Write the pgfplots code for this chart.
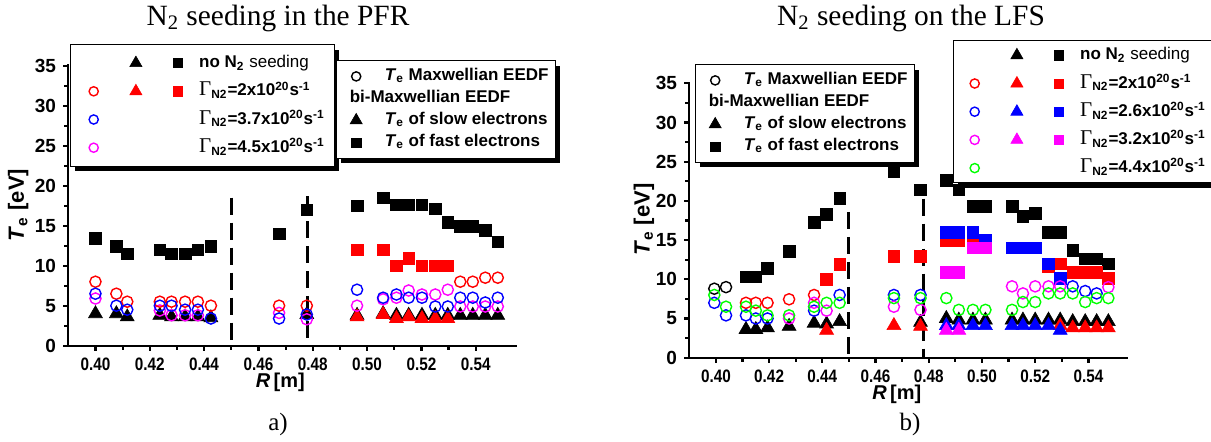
\documentclass[border=0pt]{standalone}
\usepackage{fontspec}
\setmainfont{Liberation Sans}
\newfontfamily\serif{Liberation Serif}
\newfontfamily\narrowfont[FakeStretch=0.85]{Liberation Sans}
\usepackage{pgfplots}
\pgfplotsset{compat=1.18}
\usetikzlibrary{shadows}
\definecolor{cred}{RGB}{255,0,0}
\definecolor{cblue}{RGB}{0,0,255}
\definecolor{cmag}{RGB}{255,0,255}
\definecolor{cgreen}{RGB}{0,255,0}
\pgfplotsset{
  sq/.style={only marks, mark=square*, mark size=2.9pt, color=#1, mark options={solid, draw=#1, fill=#1, line width=0.3pt}},
  tri/.style={only marks, mark=triangle*, mark size=4.0pt, color=#1, mark options={solid, draw=#1, fill=#1, line width=0.3pt}},
  circ/.style={only marks, mark=o, mark size=2.8pt, color=#1, mark options={solid, draw=#1, line width=0.7pt}},
  lsq/.style={only marks, mark=square*, mark size=2.3pt, color=#1, mark options={solid, draw=#1, fill=#1, line width=0.3pt}},
  ltri/.style={only marks, mark=triangle*, mark size=3.5pt, color=#1, mark options={solid, draw=#1, fill=#1, line width=0.3pt}},
  lcirc/.style={only marks, mark=o, mark size=2.3pt, color=#1, mark options={solid, draw=#1, line width=0.7pt}},
  limgA/.style={legend image code/.code={\path (0pt,0pt) (16.5pt,0pt); \draw[##1] plot coordinates {(8.25pt,0pt)};}},
  limgB/.style={legend image code/.code={\path (0pt,0pt) (20pt,0pt); \draw[##1] plot coordinates {(8pt,0pt)};}},
  dashln/.style={black, line width=1.5pt, dash pattern=on 8.5pt off 4pt, forget plot},
  myaxis/.style={
    scale only axis, anchor=south west,
    axis x line*=bottom, axis y line*=left,
    axis line style={-, line width=1.1pt},
    xmin=0.39, xmax=0.555, ymin=0, ymax=35.2,
    xtick={0.40,0.42,0.44,0.46,0.48,0.50,0.52,0.54},
    minor x tick num=1,
    ytick={0,5,10,15,20,25,30,35},
    minor y tick num=1,
    tick align=outside,
    major tick length=2.6pt, minor tick length=2pt,
    tick style={line width=1.1pt, black},
    /pgf/number format/assume math mode=true,
    xticklabel style={font=\narrowfont\bfseries\fontsize{9}{10}\selectfont, /pgf/number format/fixed, /pgf/number format/fixed zerofill, /pgf/number format/precision=2},
    yticklabel style={font=\bfseries\fontsize{9.5}{10}\selectfont},
    every axis x label/.style={at={(axis description cs:0.5,0)}, anchor=center, yshift=-18.5pt, xshift=-6pt, font=\bfseries\fontsize{10}{12}\selectfont},
    xlabel={\textit{R}\,[m]},
    ylabel={\textit{T}\textsubscript{e} [eV]},
    clip=false,
  },
  legbase/.style={
    scale only axis, width=5pt, height=5pt, hide axis,
    xmin=0, xmax=1, ymin=0, ymax=1, anchor=north west,
    legend cell align=left,
    legend style={at={(0,1)}, anchor=north west, draw=black, fill=white, line width=0.6pt,
      drop shadow={shadow xshift=2.2pt, shadow yshift=-2.6pt, opacity=1, fill=black},
      column sep=0pt, row sep=0pt,
      font=\fontsize{8.5}{10}\selectfont},
  },
  gamleg/.style={legbase, legend columns=3,
    legend style={inner xsep=3pt, inner ysep=2.2pt,
      nodes={inner xsep=2pt, inner ysep=1pt, text height=8.3pt, text depth=3.8pt}}},
  teleg/.style={legbase, legend columns=1,
    legend style={inner xsep=1.5pt, inner ysep=2.4pt,
      nodes={inner xsep=2pt, inner ysep=1pt, text height=6.5pt, text depth=2.5pt}}},
}
\newcommand{\Gam}[1]{\textbf{{\serif\mdseries\fontsize{10.5}{10}\selectfont Γ}\textsubscript{N2}=#1x10\textsuperscript{20}s\textsuperscript{-1}}}
\newcommand{\Te}{\textbf{\textit{T}\textsubscript{e}}}
\begin{document}
\begin{tikzpicture}
\path[use as bounding box] (0,0) rectangle (605.5pt,220.5pt);
\node[anchor=base, font=\serif\fontsize{14.7}{16}\selectfont] at (139pt,208pt) {N\textsubscript{2} seeding in the PFR};
\node[anchor=base, font=\serif\fontsize{14.7}{16}\selectfont] at (455.5pt,208pt) {N\textsubscript{2} seeding on the LFS};
\node[anchor=base, font=\serif\fontsize{12.5}{14}\selectfont] at (139pt,5.5pt) {a)};
\node[anchor=base, font=\serif\fontsize{12.5}{14}\selectfont] at (455pt,5.5pt) {b)};

% ---------------- left plot ----------------
\begin{axis}[myaxis, at={(34.15pt,47.65pt)}, width=224.1pt, height=140.8pt,
  every axis y label/.style={at={(axis description cs:-0.1116,0.5)}, anchor=center, rotate=90, font=\bfseries\fontsize{11}{13}\selectfont}]
\addplot[dashln] coordinates {(0.45,18.5) (0.45,0)};
\addplot[dashln] coordinates {(0.478,18.7) (0.478,0)};
% slow electrons, no N2
\addplot[tri=black] coordinates {(0.400,4.0) (0.4077,4.0) (0.4117,3.6) (0.4237,3.8) (0.428,3.6) (0.433,3.6) (0.4377,3.6) (0.4425,3.5) (0.4778,3.9) (0.4963,3.8) (0.5059,4.0) (0.5108,3.8) (0.5153,3.8) (0.5202,3.8) (0.5251,3.8) (0.5297,3.8) (0.5343,3.8) (0.5389,3.8) (0.5435,3.8) (0.5481,3.8)};
% slow electrons, 2e20
\addplot[tri=cred] coordinates {(0.4963,3.6) (0.5059,3.9) (0.5108,3.4) (0.5153,3.6) (0.5202,3.4) (0.5251,3.4) (0.5297,3.4)};
% fast electrons, no N2
\addplot[sq=black] coordinates {(0.400,13.4) (0.4077,12.4) (0.4117,11.5) (0.4237,12.0) (0.428,11.5) (0.433,11.5) (0.4377,12.0) (0.4425,12.4) (0.4676,14.0) (0.4778,17.0) (0.4963,17.5) (0.5059,18.5) (0.5108,17.6) (0.5153,17.6) (0.5202,17.6) (0.5251,17.1) (0.5297,15.4) (0.5343,14.9) (0.5389,14.9) (0.5435,14.4) (0.5481,13.0)};
% fast electrons, 2e20
\addplot[sq=cred] coordinates {(0.4963,12.0) (0.5059,12.0) (0.5108,10.0) (0.5153,10.9) (0.5202,10.0) (0.5251,10.0) (0.5297,10.0)};
% Maxwellian
\addplot[circ=cmag] coordinates {(0.400,5.9) (0.4237,4.4) (0.428,3.8) (0.433,3.8) (0.4377,3.8) (0.4676,4.1) (0.4778,3.3) (0.4963,5.0) (0.5059,5.8) (0.5108,6.0) (0.5153,6.9) (0.5202,6.4) (0.5251,6.4) (0.5297,7.0) (0.5343,4.9) (0.5389,4.9) (0.5435,4.9) (0.5481,4.9)};
\addplot[circ=cred] coordinates {(0.400,8.0) (0.4077,6.5) (0.4117,5.5) (0.4237,5.5) (0.428,5.5) (0.433,5.5) (0.4377,5.5) (0.4425,5.0) (0.4676,5.0) (0.4778,5.0) (0.5343,8.0) (0.5389,8.0) (0.5435,8.5) (0.5481,8.5)};
\addplot[circ=cblue] coordinates {(0.400,6.5) (0.4077,5.0) (0.4117,4.5) (0.4237,5.0) (0.428,5.0) (0.433,4.5) (0.4377,4.5) (0.4425,3.4) (0.4676,3.4) (0.4778,3.9) (0.4963,7.0) (0.5059,6.0) (0.5108,6.4) (0.5153,6.0) (0.5202,6.0) (0.5251,4.9) (0.5297,4.9) (0.5343,6.0) (0.5389,6.0) (0.5435,5.4) (0.5481,6.0)};
\end{axis}

% left legend 1
\begin{axis}[gamleg, at={(35pt,198.5pt)}]
\addlegendimage{empty legend}\addlegendentry{}
\addlegendimage{ltri=black, limgA}\addlegendentry{}
\addlegendimage{lsq=black, limgA}\addlegendentry{\textbf{no N\textsubscript{2}} seeding}
\addlegendimage{lcirc=cred, limgA}\addlegendentry{}
\addlegendimage{ltri=cred, limgA}\addlegendentry{}
\addlegendimage{lsq=cred, limgA}\addlegendentry{\Gam{2}}
\addlegendimage{lcirc=cblue, limgA}\addlegendentry{}
\addlegendimage{empty legend}\addlegendentry{}
\addlegendimage{empty legend}\addlegendentry{\Gam{3.7}}
\addlegendimage{lcirc=cmag, limgA}\addlegendentry{}
\addlegendimage{empty legend}\addlegendentry{}
\addlegendimage{empty legend}\addlegendentry{\Gam{4.5}}
\end{axis}

% left legend 2
\begin{axis}[teleg, at={(168pt,190.5pt)}]
\addlegendimage{lcirc=black, limgB}\addlegendentry{\Te\textbf{ Maxwellian EEDF}}
\addlegendimage{empty legend}\addlegendentry{\hspace*{-17.5pt}\textbf{bi-Maxwellian EEDF}}
\addlegendimage{ltri=black, limgB}\addlegendentry{\Te\textbf{ of slow electrons}}
\addlegendimage{lsq=black, limgB}\addlegendentry{\Te\textbf{ of fast electrons}}
\end{axis}

% ---------------- right plot ----------------
\begin{axis}[myaxis, at={(344.65pt,41.65pt)}, width=219.5pt, height=138pt,
  every axis y label/.style={at={(axis description cs:-0.1034,0.5)}, anchor=center, rotate=90, font=\bfseries\fontsize{11}{13}\selectfont}]
\addplot[dashln] coordinates {(0.45,18.6) (0.45,0)};
\addplot[dashln] coordinates {(0.478,20.3) (0.478,0)};
% slow electrons
\addplot[tri=black] coordinates {(0.4113,3.6) (0.415,3.6) (0.4194,3.8) (0.4275,4.0) (0.4369,4.4) (0.4416,4.3) (0.4465,4.6) (0.4769,4.5) (0.4866,5.0) (0.4913,4.8) (0.4966,4.8) (0.5013,4.8) (0.5113,4.8) (0.5154,4.8) (0.520,4.8) (0.525,4.8) (0.5294,4.8) (0.5341,4.6) (0.5388,4.6) (0.5431,4.6) (0.5475,4.6)};
\addplot[tri=cred] coordinates {(0.4416,3.5) (0.4669,4.1) (0.4769,4.0) (0.5294,4.1) (0.5341,3.8) (0.5388,3.8) (0.5431,3.8) (0.5475,3.8)};
\addplot[tri=cblue] coordinates {(0.4866,4.1) (0.4913,4.1) (0.4966,4.1) (0.5013,4.1) (0.5113,4.1) (0.5154,4.1) (0.520,4.1) (0.525,4.1) (0.5294,3.5)};
\addplot[tri=cmag] coordinates {(0.4866,3.5) (0.4913,3.5)};
% fast electrons
\addplot[sq=black] coordinates {(0.4113,10.3) (0.415,10.3) (0.4194,11.4) (0.4275,13.6) (0.4369,17.3) (0.4416,18.3) (0.4465,20.3) (0.4669,23.7) (0.4769,21.4) (0.4866,22.6) (0.4913,21.4) (0.4966,19.3) (0.5013,19.3) (0.5113,19.3) (0.5154,18.0) (0.520,18.4) (0.525,16.0) (0.5294,16.0) (0.5341,13.7) (0.5388,12.6) (0.5431,12.6) (0.5475,12.0)};
\addplot[sq=cred] coordinates {(0.4416,10.0) (0.4465,11.9) (0.4669,12.9) (0.4769,12.9) (0.4866,15.0) (0.4913,15.0) (0.4966,15.0) (0.525,11.6) (0.5294,12.0) (0.5341,10.9) (0.5388,10.9) (0.5431,10.9) (0.5475,10.1)};
\addplot[sq=cblue] coordinates {(0.4866,16.0) (0.4913,16.0) (0.4966,16.0) (0.5013,15.0) (0.5113,14.0) (0.5154,14.0) (0.520,14.0) (0.525,12.0) (0.5294,10.1)};
\addplot[sq=cmag] coordinates {(0.4866,10.9) (0.4913,10.9) (0.4966,14.0) (0.5013,14.0)};
% Maxwellian
\addplot[circ=black] coordinates {(0.3994,8.8) (0.4038,9.0)};
\addplot[circ=cred] coordinates {(0.4113,7.0) (0.415,7.0) (0.4194,7.0) (0.4275,7.45) (0.4369,8.0)};
\addplot[circ=cblue] coordinates {(0.3994,7.0) (0.4038,5.4) (0.4113,5.4) (0.415,5.0) (0.4194,5.0) (0.4369,6.0) (0.4465,8.0) (0.4669,8.0) (0.4769,8.0) (0.5341,9.1) (0.5388,8.5) (0.5431,8.2)};
\addplot[circ=cmag] coordinates {(0.4275,5.0) (0.4369,7.0) (0.4416,6.0) (0.4669,6.5) (0.4769,6.1) (0.5113,9.1) (0.5154,8.2) (0.520,9.1) (0.525,9.1) (0.5294,9.1) (0.5475,9.0)};
\addplot[circ=cgreen] coordinates {(0.3994,8.0) (0.4038,6.5) (0.4113,6.5) (0.415,6.0) (0.4194,5.4) (0.4275,5.4) (0.4369,6.5) (0.4416,7.0) (0.4465,7.0) (0.4669,7.6) (0.4769,7.6) (0.4866,7.6) (0.4913,6.1) (0.4966,6.1) (0.5013,6.1) (0.5113,6.1) (0.5154,7.1) (0.520,7.1) (0.525,8.2) (0.5294,8.2) (0.5341,8.2) (0.5388,7.1) (0.5431,7.6) (0.5475,7.6)};
\end{axis}

% right legend 1
\begin{axis}[teleg, at={(347.5pt,188.5pt)}]
\addlegendimage{lcirc=black, limgB}\addlegendentry{\Te\textbf{ Maxwellian EEDF}}
\addlegendimage{empty legend}\addlegendentry{\hspace*{-17.5pt}\textbf{bi-Maxwellian EEDF}}
\addlegendimage{ltri=black, limgB}\addlegendentry{\Te\textbf{ of slow electrons}}
\addlegendimage{lsq=black, limgB}\addlegendentry{\Te\textbf{ of fast electrons}}
\end{axis}

% right legend 2
\begin{axis}[gamleg, at={(476.5pt,200.5pt)}, legend style={inner xsep=2pt, inner ysep=0.3pt}]
\addlegendimage{empty legend}\addlegendentry{}
\addlegendimage{ltri=black, limgA}\addlegendentry{}
\addlegendimage{lsq=black, limgA}\addlegendentry{\textbf{no N\textsubscript{2}} seeding}
\addlegendimage{lcirc=cred, limgA}\addlegendentry{}
\addlegendimage{ltri=cred, limgA}\addlegendentry{}
\addlegendimage{lsq=cred, limgA}\addlegendentry{\Gam{2}}
\addlegendimage{lcirc=cblue, limgA}\addlegendentry{}
\addlegendimage{ltri=cblue, limgA}\addlegendentry{}
\addlegendimage{lsq=cblue, limgA}\addlegendentry{\Gam{2.6}}
\addlegendimage{lcirc=cmag, limgA}\addlegendentry{}
\addlegendimage{ltri=cmag, limgA}\addlegendentry{}
\addlegendimage{lsq=cmag, limgA}\addlegendentry{\Gam{3.2}}
\addlegendimage{lcirc=cgreen, limgA}\addlegendentry{}
\addlegendimage{empty legend}\addlegendentry{}
\addlegendimage{empty legend}\addlegendentry{\Gam{4.4}}
\end{axis}
\end{tikzpicture}
\end{document}
